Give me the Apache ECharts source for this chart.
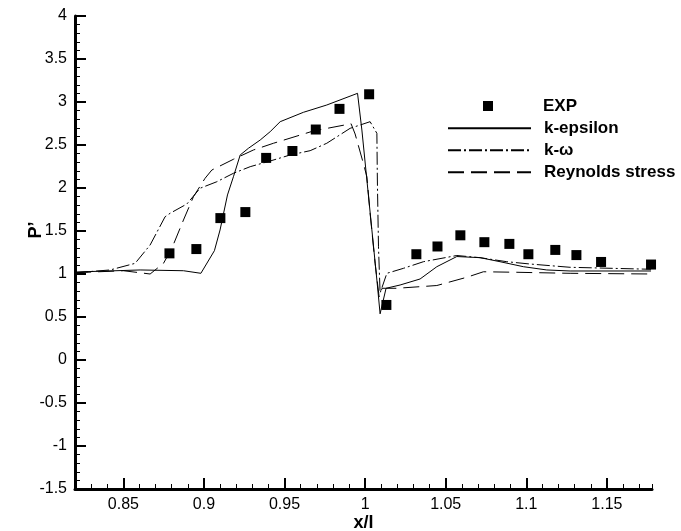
<!DOCTYPE html>
<html>
<head>
<meta charset="utf-8">
<script src="https://cdn.jsdelivr.net/npm/echarts@6/dist/echarts.min.js"></script>
<style>
html,body{margin:0;padding:0;background:#fff;}
#chart{width:681px;height:531px;}
</style>
</head>
<body>
<div id="chart"></div>
<script>
// ---- data ----
var expX = [0.8786, 0.8953, 0.9102, 0.9257, 0.9386, 0.9549, 0.9694, 0.9841, 1.0025, 1.0132, 1.0318, 1.0449, 1.0591, 1.0740, 1.0895, 1.1013, 1.1180, 1.1311, 1.1464, 1.1774];
var expY = [1.24, 1.29, 1.65, 1.72, 2.35, 2.43, 2.68, 2.92, 3.09, 0.64, 1.23, 1.32, 1.45, 1.37, 1.35, 1.23, 1.28, 1.22, 1.14, 1.11];

var kepsX = [0.8201, 0.8604, 0.8873, 0.8981, 0.9065, 0.9100, 0.9146, 0.9183, 0.9225, 0.9276, 0.9349, 0.9411, 0.9473, 0.9617, 0.9762, 0.9953, 0.9980, 1.0011, 1.0042, 1.0073, 1.0093, 1.0130, 1.0217, 1.0341, 1.0445, 1.0569, 1.0713, 1.0837, 1.0982, 1.1127, 1.1272, 1.1774];
var kepsY = [1.023, 1.047, 1.038, 1.008, 1.271, 1.512, 1.919, 2.131, 2.384, 2.462, 2.558, 2.655, 2.771, 2.880, 2.965, 3.101, 2.674, 2.093, 1.512, 0.930, 0.537, 0.834, 0.872, 0.942, 1.085, 1.203, 1.190, 1.143, 1.085, 1.047, 1.035, 1.035];

var komX = [0.8201, 0.8418, 0.8573, 0.8666, 0.8759, 0.8790, 0.8894, 0.8976, 0.9080, 0.9183, 0.9287, 0.9411, 0.9535, 0.9659, 0.9762, 0.9907, 1.0031, 1.0073, 1.0076, 1.0083, 1.0093, 1.0135, 1.0238, 1.0362, 1.0569, 1.0713, 1.0879, 1.1024, 1.1272, 1.1774];
var komY = [1.015, 1.047, 1.124, 1.337, 1.666, 1.706, 1.814, 1.997, 2.073, 2.171, 2.248, 2.314, 2.384, 2.434, 2.520, 2.694, 2.771, 2.636, 2.093, 1.317, 0.779, 1.008, 1.066, 1.143, 1.215, 1.190, 1.143, 1.116, 1.078, 1.055];

var rsX = [0.8201, 0.8501, 0.8666, 0.8749, 0.8801, 0.8873, 0.8935, 0.9007, 0.9049, 0.9183, 0.9307, 0.9431, 0.9679, 0.9913, 0.9938, 0.9989, 1.0011, 1.0031, 1.0062, 1.0087, 1.0105, 1.0197, 1.0445, 1.0631, 1.0734, 1.0941, 1.1272, 1.1774];
var rsY = [1.015, 1.038, 1.000, 1.124, 1.299, 1.628, 1.899, 2.113, 2.209, 2.334, 2.442, 2.520, 2.663, 2.747, 2.628, 2.287, 2.131, 1.706, 1.124, 0.733, 0.834, 0.834, 0.866, 0.962, 1.026, 1.020, 1.008, 1.000];

var seriesNames = ['EXP', 'k-epsilon', 'k-\u03c9', 'Reynolds stress'];
var xTicks = [0.85, 0.9, 0.95, 1, 1.05, 1.1, 1.15];
var xRange = [0.82, 1.178];
var yRange = [-1.5, 4];
var yStep = 0.5;
var xMinorStep = 0.01;

function pairs(xs, ys) { return xs.map(function (x, i) { return [x, ys[i]]; }); }

var FONT = 'Liberation Sans, Arial, Helvetica, sans-serif';
var chart = echarts.init(document.getElementById('chart'), null, {renderer: 'canvas'});

var lineBase = {type: 'line', xAxisIndex: 0, yAxisIndex: 0, symbol: 'none', showSymbol: false, silent: true};
var hiddenSymbol = {color: 'rgba(0,0,0,0)', borderColor: 'rgba(0,0,0,0)', borderWidth: 0, opacity: 0};

chart.setOption({
  animation: false,
  backgroundColor: '#fff',
  grid: {left: 75, right: 29, top: 16, bottom: 42, containLabel: false, outerBoundsMode: 'none'},
  legend: [
    {
      data: [seriesNames[0]], left: 483, top: 97.5, padding: 0, selectedMode: false,
      icon: 'rect', itemWidth: 10, itemHeight: 10,
      itemStyle: {color: '#000', opacity: 1},
      textStyle: {fontFamily: FONT, fontWeight: 'bold', fontSize: 17, color: '#000', padding: [0, 0, 0, 45]}
    },
    {
      data: seriesNames.slice(1), left: 447, top: 119.8, orient: 'vertical', padding: 0, selectedMode: false,
      itemWidth: 83, itemHeight: 14, itemGap: 5,
      itemStyle: hiddenSymbol,
      textStyle: {fontFamily: FONT, fontWeight: 'bold', fontSize: 17, color: '#000', padding: [0, 0, 0, 8]}
    }
  ],
  xAxis: [
    {
      type: 'value', position: 'bottom', min: xRange[0], max: xRange[1], interval: xMinorStep,
      axisLine: {show: true, onZero: false, lineStyle: {color: '#000', width: 3}},
      axisTick: {show: true, inside: true, length: 5, lineStyle: {color: '#000', width: 1}},
      axisLabel: {show: false},
      splitLine: {show: false}
    },
    {
      type: 'value', position: 'bottom', min: xRange[0], max: xRange[1],
      axisLine: {show: false, onZero: false},
      axisTick: {show: true, inside: true, length: 11, customValues: xTicks, lineStyle: {color: '#000', width: 2}},
      axisLabel: {show: true, customValues: xTicks, margin: 8, color: '#000', fontFamily: FONT, fontSize: 16,
        formatter: function (v) { return String(+(+v).toFixed(2)); }},
      splitLine: {show: false},
      name: 'x/l', nameLocation: 'middle', nameGap: 25, nameMoveOverlap: false,
      nameTextStyle: {fontFamily: FONT, fontWeight: 'bold', fontSize: 18, color: '#000', verticalAlign: 'top'}
    }
  ],
  yAxis: {
    type: 'value', min: yRange[0], max: yRange[1], interval: yStep,
    axisLine: {show: true, onZero: false, lineStyle: {color: '#000', width: 3}},
    axisTick: {show: true, inside: true, length: 11, lineStyle: {color: '#000', width: 2}},
    minorTick: {show: true, splitNumber: 5, length: 5, lineStyle: {color: '#000', width: 1}},
    axisLabel: {color: '#000', fontFamily: FONT, fontSize: 16, margin: 8},
    splitLine: {show: false}
  },
  graphic: [
    {type: 'text', x: 36, y: 230, rotation: Math.PI / 2,
     style: {text: 'P\u2019', fontFamily: FONT, fontWeight: 'bold', fontSize: 18, fill: '#000', align: 'center', verticalAlign: 'middle'}}
  ],
  series: [
    {name: seriesNames[0], type: 'scatter', xAxisIndex: 0, yAxisIndex: 0, symbol: 'rect', symbolSize: 10,
     itemStyle: {color: '#000', opacity: 1}, data: pairs(expX, expY), silent: true},
    Object.assign({}, lineBase, {name: seriesNames[1], data: pairs(kepsX, kepsY),
     lineStyle: {color: '#000', width: 1, type: 'solid'}, itemStyle: {color: '#000'}}),
    Object.assign({}, lineBase, {name: seriesNames[2], data: pairs(komX, komY),
     lineStyle: {color: '#000', width: 1, type: [13, 3, 2, 3]}, itemStyle: {color: '#000'}}),
    Object.assign({}, lineBase, {name: seriesNames[3], data: pairs(rsX, rsY),
     lineStyle: {color: '#000', width: 1, type: [16, 7]}, itemStyle: {color: '#000'}})
  ]
});
</script>
</body>
</html>
